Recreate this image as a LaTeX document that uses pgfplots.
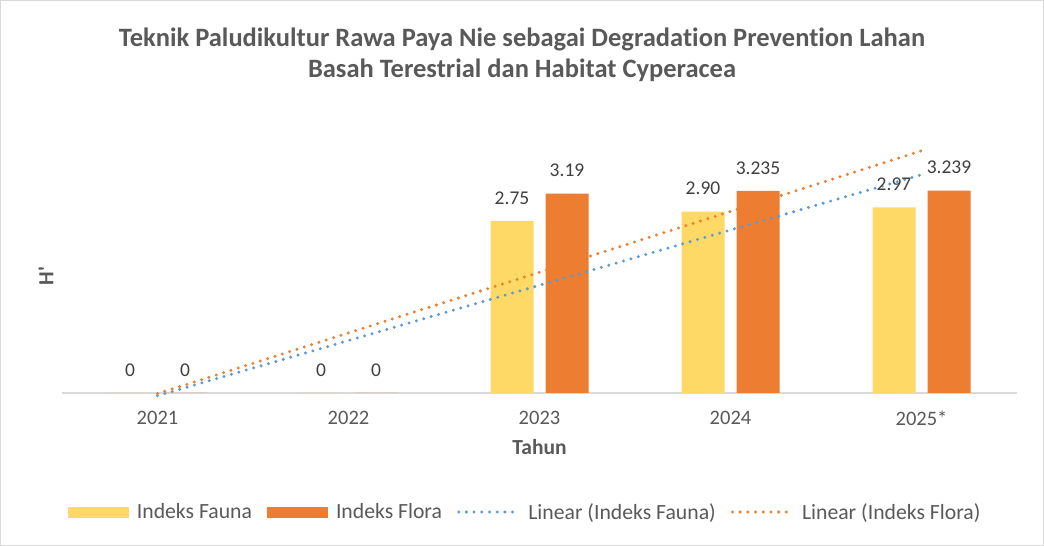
\documentclass[border=0pt]{standalone}
\usepackage{pgfplots}
\pgfplotsset{compat=1.18}
\usepackage{fontspec}
\setmainfont{Carlito}[Ligatures={TeX,NoCommon}]
\newfontfamily\rawfont{Carlito}[Ligatures=NoCommon]
\definecolor{fauna}{HTML}{FFD966}
\definecolor{flora}{HTML}{ED7D31}
\definecolor{tblue}{HTML}{5B9BD5}
\definecolor{txt}{HTML}{595959}
\definecolor{lbl}{HTML}{404040}
\definecolor{grid}{HTML}{D9D9D9}
\begin{document}
\begin{tikzpicture}[x=1pt,y=1pt]
\draw[grid, fill=white, line width=1pt] (0.5,0.5) rectangle (1043.5,545.5);
\node[font=\bfseries\fontsize{26.5}{30}\selectfont, text=txt, align=center] at (522,55) [yshift=0pt] {};
\node[font=\bfseries\fontsize{26.5}{31}\selectfont, text=txt, align=center] at (522,491) {Teknik Paludikultur Rawa Paya Nie sebagai Degradation Prevention Lahan\\Basah Terestrial dan Habitat Cyperacea};
\begin{axis}[
  at={(62pt,153pt)}, anchor=south west,
  scale only axis, width=955pt, height=250pt,
  xmin=0.5, xmax=5.5, ymin=0, ymax=4,
  clip=false,
  axis x line=bottom, hide y axis,
  axis line style={-, draw=grid, line width=1.5pt},
  xtick={1,2,3,4,5},
  xticklabels={2021,2022,2023,2024,2025*},
  major tick length=0pt,
  xticklabel style={anchor=center, yshift=-25pt, font=\fontsize{20.5}{24}\selectfont, text=txt},
  xlabel={Tahun},
  xlabel style={at={(axis description cs:0.5,0)}, anchor=center, yshift=-54pt, font=\bfseries\fontsize{21.5}{24}\selectfont, text=txt},
  legend columns=4,
  legend style={draw=none, fill=none, at={(axis description cs:0.485,-0.476)}, anchor=center,
    font=\fontsize{21.7}{24}\selectfont, text=txt,
    /tikz/every odd column/.append style={column sep=6pt},
    /tikz/every even column/.append style={column sep=13pt}},
  nodes near coords style={anchor=center, yshift=23pt, font=\fontsize{19.5}{22}\selectfont, text=lbl},
]
\addplot[ybar, bar width=43pt, bar shift=-27.5pt, fill=fauna, draw=none,
  point meta=explicit symbolic, nodes near coords,
  every node near coord/.append style={xshift=-27.5pt},
  legend image code/.code={\fill[fauna] (0pt,-5.5pt) rectangle (61pt,5.5pt);}]
  coordinates {(1,0) [0] (2,0) [0] (3,2.75) [2.75] (4,2.90) [2.90] (5,2.97) [2.97]};
\addlegendentry{Indeks Fauna}
\addplot[ybar, bar width=43pt, bar shift=27.5pt, fill=flora, draw=none,
  point meta=explicit symbolic, nodes near coords,
  every node near coord/.append style={xshift=27.5pt},
  legend image code/.code={\fill[flora] (0pt,-5.5pt) rectangle (61pt,5.5pt);}]
  coordinates {(1,0) [0] (2,0) [0] (3,3.19) [3.19] (4,3.235) [3.235] (5,3.239) [3.239]};
\addlegendentry{Indeks Flora}
\addplot[tblue, line width=3.3pt, line cap=round, dash pattern=on 0pt off 7.7pt,
  legend image code/.code={\draw[tblue, line width=3.3pt, line cap=round, dash pattern=on 0pt off 7.7pt] (0pt,0pt) -- (60pt,0pt);}]
  coordinates {(1,-0.044) (5,3.492)};
\addlegendentry{Linear (Indeks Fauna)}
\addplot[flora, line width=3.3pt, line cap=round, dash pattern=on 0pt off 7.7pt,
  legend image code/.code={\draw[flora, line width=3.3pt, line cap=round, dash pattern=on 0pt off 7.7pt] (0pt,0pt) -- (60pt,0pt);}]
  coordinates {(1,-0.010) (5,3.875)};
\addlegendentry{Linear (Indeks Flora)}
\end{axis}
\node[font=\rawfont\bfseries\fontsize{21.5}{24}\selectfont, text=txt, rotate=90] at (46,270) {H'};
\end{tikzpicture}
\end{document}
